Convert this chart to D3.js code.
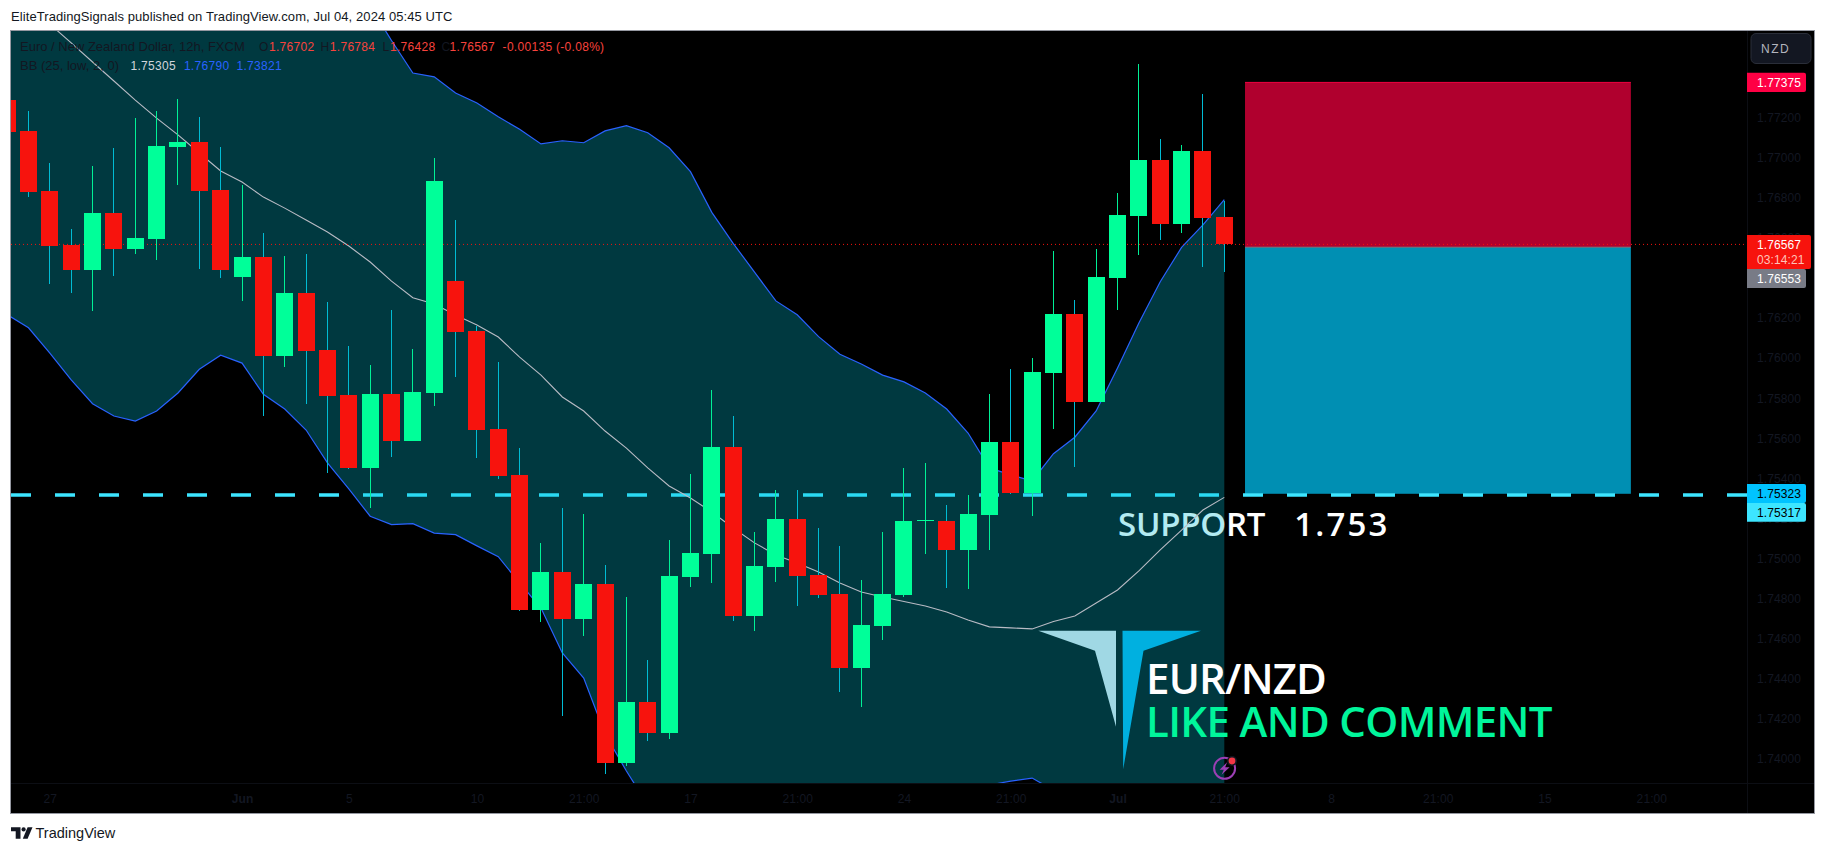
<!DOCTYPE html>
<html><head><meta charset="utf-8">
<script src="https://cdn.jsdelivr.net/npm/d3@7/dist/d3.min.js"></script>
<style>
html,body{margin:0;padding:0;background:#fff;overflow:hidden}
svg{display:block;font-family:"Liberation Sans",Arial,sans-serif}
.ax text{fill:#131722;font-size:12px;letter-spacing:.1px}
.ax path,.ax line{display:none}
</style></head><body>
<script>
// Candle data, oldest first; the first candle is cut off by the left edge (bar index -1)
const opens=[1.77288,1.77133,1.76833,1.76564,1.76439,1.76724,1.76544,1.76594,1.77053,1.77078,1.76838,1.76404,1.76504,1.76010,1.76325,1.76040,1.75816,1.75452,1.75821,1.75586,1.75826,1.76384,1.76135,1.75646,1.75417,1.74743,1.74933,1.74698,1.74873,1.73980,1.74284,1.74130,1.74908,1.75023,1.75556,1.74713,1.74958,1.75197,1.74918,1.74823,1.74454,1.74663,1.74818,1.75185,1.75187,1.75043,1.75217,1.75581,1.75327,1.75925,1.76220,1.75781,1.76399,1.76709,1.76988,1.76669,1.77033,1.76702];
const highs=[1.77300,1.77232,1.76973,1.76644,1.76958,1.77048,1.77197,1.77232,1.77292,1.77202,1.77053,1.76863,1.76624,1.76509,1.76519,1.76280,1.76060,1.75965,1.76240,1.76045,1.76998,1.76689,1.76160,1.75980,1.75551,1.75078,1.75252,1.75222,1.74968,1.74808,1.74494,1.75092,1.75422,1.75841,1.75711,1.75132,1.75342,1.75342,1.75152,1.75063,1.74893,1.75132,1.75452,1.75477,1.75267,1.75317,1.75821,1.75945,1.76000,1.76534,1.76290,1.76544,1.76823,1.77467,1.77093,1.77063,1.77317,1.76784];
const lows=[1.77100,1.76805,1.76371,1.76324,1.76235,1.76411,1.76519,1.76489,1.76863,1.76444,1.76399,1.76285,1.75711,1.75955,1.75771,1.75427,1.75447,1.75252,1.75506,1.75586,1.75761,1.75906,1.75501,1.75397,1.74738,1.74683,1.74215,1.74614,1.73925,1.73965,1.74090,1.74100,1.74858,1.74878,1.74688,1.74639,1.74883,1.74763,1.74803,1.74334,1.74259,1.74594,1.74808,1.75023,1.74853,1.74848,1.75043,1.75322,1.75212,1.75646,1.75457,1.75781,1.76240,1.76514,1.76589,1.76624,1.76454,1.76428];
const closes=[1.77129,1.76828,1.76560,1.76439,1.76724,1.76544,1.76599,1.77058,1.77078,1.76833,1.76439,1.76504,1.76010,1.76325,1.76035,1.75811,1.75452,1.75821,1.75586,1.75831,1.76883,1.76130,1.75641,1.75412,1.74743,1.74933,1.74698,1.74873,1.73980,1.74284,1.74130,1.74913,1.75028,1.75556,1.74713,1.74963,1.75197,1.74913,1.74818,1.74454,1.74668,1.74823,1.75187,1.75190,1.75043,1.75222,1.75581,1.75327,1.75930,1.76220,1.75781,1.76404,1.76714,1.76988,1.76669,1.77033,1.76699,1.76567];

// Bollinger Bands (25, low, 2, 0); parts beyond the chart edges are estimates
const bbBasis=[1.77856,1.77761,1.77666,1.77572,1.77477,1.77382,1.77287,1.77197,1.77113,1.77023,1.76933,1.76878,1.76803,1.76748,1.76689,1.76629,1.76559,1.76479,1.76384,1.76301,1.76270,1.76215,1.76165,1.76105,1.76005,1.75915,1.75806,1.75736,1.75636,1.75551,1.75452,1.75362,1.75302,1.75232,1.75152,1.75078,1.75018,1.74978,1.74933,1.74878,1.74833,1.74808,1.74786,1.74763,1.74733,1.74693,1.74659,1.74654,1.74649,1.74686,1.74713,1.74778,1.74843,1.74938,1.75043,1.75142,1.75242,1.75305];
const bbUpper=[1.78180,1.78200,1.78220,1.78240,1.78260,1.78280,1.78300,1.78310,1.78320,1.78320,1.78310,1.78290,1.78260,1.78210,1.78130,1.78030,1.77911,1.77756,1.77584,1.77422,1.77403,1.77322,1.77272,1.77204,1.77141,1.77068,1.77084,1.77074,1.77133,1.77159,1.77124,1.77049,1.76930,1.76727,1.76572,1.76429,1.76285,1.76216,1.76107,1.76019,1.75970,1.75915,1.75881,1.75826,1.75746,1.75626,1.75452,1.75417,1.75387,1.75523,1.75605,1.75736,1.75950,1.76175,1.76381,1.76552,1.76664,1.76790];
const bbLower=[1.76217,1.76151,1.76025,1.75891,1.75772,1.75711,1.75686,1.75736,1.75826,1.75944,1.76014,1.75975,1.75819,1.75746,1.75641,1.75477,1.75347,1.75211,1.75169,1.75174,1.75127,1.75119,1.75063,1.75009,1.74878,1.74753,1.74529,1.74404,1.74125,1.73940,1.73771,1.73646,1.73546,1.73446,1.73396,1.73396,1.73446,1.73521,1.73596,1.73671,1.73721,1.73771,1.73796,1.73821,1.73835,1.73850,1.73870,1.73890,1.73905,1.73845,1.73810,1.73790,1.73781,1.73781,1.73790,1.73800,1.73810,1.73821];

const priceTicks=[1.772,1.770,1.768,1.766,1.764,1.762,1.760,1.758,1.756,1.754,1.752,1.750,1.748,1.746,1.744,1.742,1.740];
const timeTickBars=[1,10,15,21,26,31,36,41,46,51,56,61,66,71,76];
const timeTickLabels=["27","Jun","5","10","21:00","17","21:00","24","21:00","Jul","21:00","8","21:00","15","21:00"];
const boldTimeLabels=["Jun","Jul"];

const targetPrice=1.77375, entryPrice=1.76553, stopPrice=1.75323, supportPrice=1.75317, lastPrice=1.76567;
const boxBars=[56.97,75.04]; // the position tool spans these bar positions

const W=1826,H=853;
const pane={l:11,t:31,r:1747,b:783};
const x=d3.scaleLinear().domain([0,56]).range([28.5,1224.3]);
const y=d3.scaleLinear().domain([1.772,1.740]).range([117.5,759]);
const bars=opens.map((o,i)=>({i:i-1,o,h:highs[i],l:lows[i],c:closes[i],up:closes[i]>=o}));
const fmt=d3.format(".5f");

const svg=d3.select("body").append("svg").attr("width",W).attr("height",H).attr("viewBox",`0 0 ${W} ${H}`);
svg.append("rect").attr("x",0).attr("y",0).attr("width",W).attr("height",H).attr("fill","#fff");

function txt(sel,s,px,py,size,fill,extra={}){
  const t=sel.append("text").attr("x",px).attr("y",py).attr("font-size",size).attr("fill",fill).text(s);
  for(const k in extra) t.attr(k,extra[k]);
  return t;
}
// header and footer
txt(svg,"EliteTradingSignals published on TradingView.com, Jul 04, 2024 05:45 UTC",11,21,13,"#131722",{"letter-spacing":".08px"});
txt(svg,"TradingView",35.5,838,14.5,"#131722");
const tv=svg.append("g").attr("fill","#131722");
tv.append("path").attr("d","M11 827.3H20.5V838.7H15.7V831.3H11Z");
tv.append("circle").attr("cx",23.6).attr("cy",829.4).attr("r",2.1);
tv.append("path").attr("d","M27.6 827.3H32.5L27.6 838.7H22.8Z");

// frame
svg.append("rect").attr("x",10.5).attr("y",30.5).attr("width",1804).attr("height",783).attr("fill","#000").attr("stroke","#9598a1").attr("stroke-width",1);

svg.append("defs").append("clipPath").attr("id","pc").append("rect")
  .attr("x",pane.l).attr("y",pane.t).attr("width",pane.r-pane.l).attr("height",pane.b-pane.t);
const g=svg.append("g").attr("clip-path","url(#pc)");

// position boxes
const bx0=x(boxBars[0]), bw=x(boxBars[1])-bx0;
g.append("rect").attr("x",bx0).attr("y",y(targetPrice)).attr("width",bw).attr("height",y(entryPrice)-y(targetPrice)).attr("fill","#b0002e");
g.append("rect").attr("x",bx0).attr("y",y(entryPrice)).attr("width",bw).attr("height",y(stopPrice)-y(entryPrice)).attr("fill","#008fb3");
g.append("line").attr("x1",bx0).attr("x2",bx0+bw).attr("y1",y(targetPrice)).attr("y2",y(targetPrice)).attr("stroke","#f00040").attr("stroke-width",1);
g.append("line").attr("x1",bx0).attr("x2",bx0+bw).attr("y1",y(entryPrice)).attr("y2",y(entryPrice)).attr("stroke","#787b86").attr("stroke-width",1);

// items beneath the band fill
g.append("line").attr("x1",pane.l).attr("x2",pane.r).attr("y1",y(supportPrice)).attr("y2",y(supportPrice))
  .attr("stroke","#3de5ff").attr("stroke-width",3.6).attr("stroke-dasharray","20 24");
const sup=txt(g,"",1118,535.7,33,"#fff",{"font-family":"'Open Sans',sans-serif","font-weight":600,style:"white-space:pre"});
sup.append("tspan").attr("letter-spacing","-.25px").text("SUPPORT");
sup.append("tspan").attr("dx","29").attr("letter-spacing","2.2px").text("1.753");

// band fill + lines
const idx=d3.range(bars.length);
const xi=k=>x(k-1);
g.append("path").attr("fill","rgba(0,188,212,0.3)")
  .attr("d",d3.area().x(xi).y0(k=>y(bbLower[k])).y1(k=>y(bbUpper[k]))(idx));
const ln=a=>d3.line().x(xi).y(k=>y(a[k]))(idx);
g.append("path").attr("d",ln(bbUpper)).attr("fill","none").attr("stroke","#2962ff").attr("stroke-width",1.2);
g.append("path").attr("d",ln(bbLower)).attr("fill","none").attr("stroke","#2962ff").attr("stroke-width",1.2);
g.append("path").attr("d",ln(bbBasis)).attr("fill","none").attr("stroke","#b8bbc4").attr("stroke-width",1.1);

// last price dotted line
g.append("line").attr("x1",pane.l).attr("x2",pane.r).attr("y1",y(lastPrice)).attr("y2",y(lastPrice))
  .attr("stroke","#f7130d").attr("stroke-width",1).attr("stroke-dasharray","1 3");

// candles
const cg=g.append("g").attr("shape-rendering","crispEdges");
cg.selectAll(".w").data(bars).join("line").attr("class","w")
  .attr("x1",d=>Math.floor(x(d.i))+.5).attr("x2",d=>Math.floor(x(d.i))+.5)
  .attr("y1",d=>y(d.h)).attr("y2",d=>y(d.l))
  .attr("stroke",d=>d.up?"#00f096":"#00bcd4").attr("stroke-width",1);
cg.selectAll(".b").data(bars).join("rect").attr("class","b")
  .attr("x",d=>Math.floor(x(d.i))-8).attr("width",17)
  .attr("y",d=>y(Math.max(d.o,d.c))).attr("height",d=>Math.max(1,Math.abs(y(d.o)-y(d.c))))
  .attr("fill",d=>d.up?"#00ff99":"#f7130d");

// logo + titles
g.append("path").attr("fill","#a0d8e4").attr("d","M1038.3 630.7H1116V726.7L1095 650.7Z");
g.append("path").attr("fill","#00b0e0").attr("d","M1122.5 630.7H1201L1143.5 650.7L1123.2 769.3Z");
const ts={"font-family":"'Open Sans',sans-serif","font-weight":600};
txt(g,"EUR/NZD",1146,694,42,"#fff",{...ts,"letter-spacing":"-.8px"});
txt(g,"LIKE AND COMMENT",1146,737.3,42,"#00f59b",{...ts,"letter-spacing":"-.65px"});
// alert icon
const ic=g.append("g").attr("transform","translate(1224.6,768.3)");
ic.append("circle").attr("r",10.5).attr("fill","none").attr("stroke","#9c3fb5").attr("stroke-width",2);
ic.append("path").attr("fill","#9c3fb5").attr("d","M2.5 -6L-5 1.5H-0.8L-3 6.5L5 -1H0.6Z");
ic.append("circle").attr("cx",7.4).attr("cy",-7.3).attr("r",5).attr("fill","#131722");
ic.append("circle").attr("cx",7.4).attr("cy",-7.3).attr("r",3.4).attr("fill","#f23645");

// legend
const red="#f8433d", dk="#131722", blue="#2962ff";
const lg=svg.append("g");
const num={"letter-spacing":".3px"};
txt(lg,"Euro / New Zealand Dollar, 12h, FXCM",20,51,13,dk);
[["O",259,dk],["1.76702",269,red],["H",320.5,dk],["1.76784",329.8,red],["L",382.5,dk],["1.76428",390,red],["C",441.5,dk],["1.76567",449.6,red],["-0.00135 (-0.08%)",502.6,red]]
  .forEach(a=>txt(lg,a[0],a[1],51,12,a[2],num));
txt(lg,"BB (25, low, 2, 0)",20,70,13,dk);
[["1.75305",130.5,"#d1d4dc"],["1.76790",183.9,blue],["1.73821",236.5,blue]].forEach(a=>txt(lg,a[0],a[1],70,12,a[2],num));

// axes
svg.append("line").attr("x1",pane.r+.5).attr("x2",pane.r+.5).attr("y1",31).attr("y2",813).attr("stroke","#0c0e14");
svg.append("line").attr("x1",11).attr("x2",1814).attr("y1",783.5).attr("y2",783.5).attr("stroke","#0c0e14");
svg.append("g").attr("class","ax").attr("transform",`translate(${pane.r},0)`)
  .call(d3.axisRight(y).tickValues(priceTicks).tickSize(0).tickPadding(10).tickFormat(fmt));
const tx=svg.append("g").attr("class","ax").attr("transform",`translate(0,${pane.b})`)
  .call(d3.axisBottom(x).tickValues(timeTickBars).tickSize(0).tickPadding(11.5).tickFormat((d,i)=>timeTickLabels[i]));
tx.selectAll("text").attr("font-weight",(d,i)=>boldTimeLabels.includes(timeTickLabels[i])?"bold":null);

// price labels
const pl=svg.append("g");
function tag(top,bottom,right,fill,rows){
  pl.append("path").attr("fill",fill).attr("d",`M${pane.r} ${top}H${right-2}Q${right} ${top} ${right} ${top+2}V${bottom-2}Q${right} ${bottom} ${right-2} ${bottom}H${pane.r}Z`);
  rows.forEach(r=>txt(pl,r[0],1757,r[1],12,r[2],{"letter-spacing":".1px"}));
}
tag(72.7,92,1806,"#ff0044",[[fmt(targetPrice),86.6,"#fff"]]);
tag(269,288,1806,"#787b86",[[fmt(entryPrice),282.8,"#fff"]]);
tag(235,269,1811,"#f7130d",[[fmt(lastPrice),249.3,"#fff"],["03:14:21",263.5,"#ffc2b8"]]);
tag(484,503,1806,"#00c3ff",[[fmt(stopPrice),497.8,"#000"]]);
tag(503,521.7,1806,"#3de5ff",[[fmt(supportPrice),516.6,"#000"]]);

// currency button
svg.append("rect").attr("x",1751).attr("y",33.5).attr("width",60).attr("height",30).attr("rx",5).attr("fill","#131722").attr("stroke","#2a2e39");
txt(svg,"NZD",1761,53,12,"#b2b5be",{"letter-spacing":"1.5px"});
</script>
</body></html>
